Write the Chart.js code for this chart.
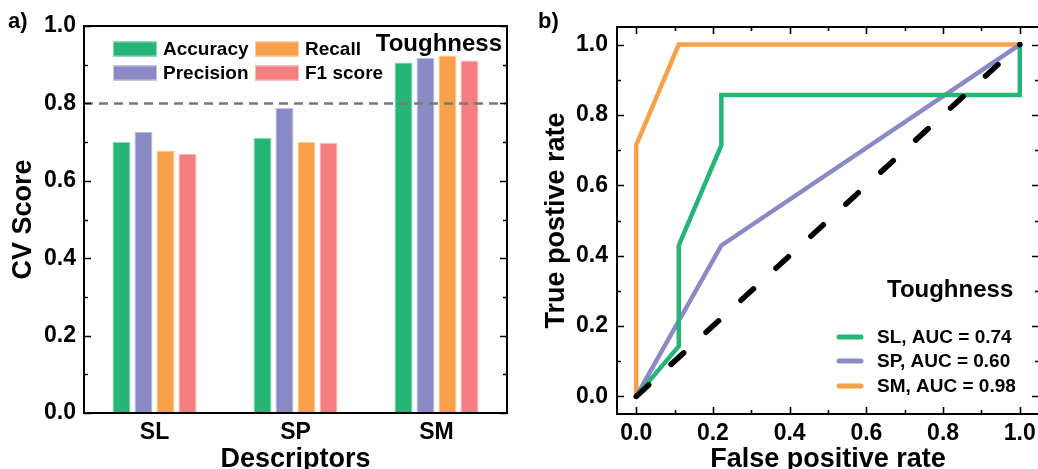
<!DOCTYPE html>
<html>
<head>
<meta charset="utf-8">
<script src="https://cdn.jsdelivr.net/npm/chart.js@4.4.1/dist/chart.umd.min.js"></script>
<style>
  body { margin: 0; width: 1038px; height: 469px; overflow: hidden; position: relative; background: #fff; }
  .panel { position: absolute; top: 0; }
  .tag { position: absolute; font: bold 22px "Liberation Sans", Arial, sans-serif; color: #000; }
</style>
</head>
<body>
<div class="panel" style="left:0"><canvas id="cvChart" width="519" height="480"></canvas></div>
<div class="panel" style="left:520px"><canvas id="rocChart" width="530" height="480"></canvas></div>
<div class="tag" style="left:8px;top:8px">a)</div>
<div class="tag" style="left:538px;top:8px">b)</div>
<script>
/* ---------- panel a: CV scores per descriptor ---------- */
const descriptors = ['SL', 'SP', 'SM'];
const accuracy  = [0.700, 0.711, 0.906];
const precision = [0.727, 0.788, 0.918];
const recall    = [0.678, 0.700, 0.924];
const f1score   = [0.670, 0.698, 0.911];
const threshold = 0.8;
const cvMajor = [0, 0.2, 0.4, 0.6, 0.8, 1.0];
const cvMinor = [0.1, 0.3, 0.5, 0.7, 0.9];

/* ---------- panel b: ROC curves ---------- */
const slFpr = [0, 0.111, 0.111, 0.222, 0.222, 1, 1];
const slTpr = [0, 0.143, 0.429, 0.714, 0.857, 0.857, 1];
const spFpr = [0, 0.222, 1];
const spTpr = [0, 0.429, 1];
const smFpr = [0, 0, 0.111, 1];
const smTpr = [0, 0.714, 1, 1];
const chanceFpr = [0, 1];
const chanceTpr = [0, 1];
const aucValues = { SL: 0.74, SP: 0.60, SM: 0.98 };
const rocMajor = [0, 0.2, 0.4, 0.6, 0.8, 1.0];
const rocMinor = [0.1, 0.3, 0.5, 0.7, 0.9];

const GREEN = '#27b577', PURPLE = '#8a8bc4', ORANGE = '#f8a04a', PINK = '#f47e80';
const FONT = '"Liberation Sans", Arial, sans-serif';

Chart.defaults.font.family = FONT;
Chart.defaults.font.weight = 'bold';
Chart.defaults.color = '#000';

const pts = (xs, ys) => xs.map((x, i) => ({ x: x, y: ys[i] }));

// box around the plot with inward major/minor ticks
const frameTicks = {
  id: 'frameTicks',
  afterDraw(chart, args, opts) {
    const { ctx, chartArea: a, scales } = chart;
    ctx.save();
    ctx.strokeStyle = '#000';
    ctx.lineWidth = 2;
    ctx.strokeRect(a.left, a.top, a.right - a.left, a.bottom - a.top);
    ctx.lineWidth = 1.6;
    ctx.beginPath();
    const yTick = (v, len) => {
      const y = Math.round(scales.y.getPixelForValue(v)) + 0.5;
      ctx.moveTo(a.left, y); ctx.lineTo(a.left + len, y);
      ctx.moveTo(a.right, y); ctx.lineTo(a.right - len, y);
    };
    const xTick = (v, len) => {
      const x = Math.round(scales.x.getPixelForValue(v)) + 0.5;
      ctx.moveTo(x, a.top); ctx.lineTo(x, a.top + len);
      ctx.moveTo(x, a.bottom); ctx.lineTo(x, a.bottom - len);
    };
    (opts.yMajor || []).forEach(v => yTick(v, 7));
    (opts.yMinor || []).forEach(v => yTick(v, 4));
    (opts.xMajor || []).forEach(v => xTick(v, 7));
    (opts.xMinor || []).forEach(v => xTick(v, 4));
    ctx.stroke();
    ctx.restore();
  }
};

// 2x2 legend, threshold line and the "Toughness" tag for the bar panel
const barExtras = {
  id: 'barExtras',
  afterDatasetsDraw(chart) {
    const { ctx, chartArea: a, scales } = chart;
    ctx.save();
    const y = scales.y.getPixelForValue(threshold);
    ctx.strokeStyle = '#7a7a7a';
    ctx.lineWidth = 2.5;
    ctx.setLineDash([9, 6]);
    ctx.beginPath();
    ctx.moveTo(a.left, y); ctx.lineTo(a.right, y);
    ctx.stroke();
    ctx.setLineDash([]);

    const slots = [[113, 49], [113, 73], [255, 49], [255, 73]];
    ctx.font = 'bold 19px ' + FONT;
    ctx.textBaseline = 'middle';
    chart.data.datasets.forEach((ds, i) => {
      const [x, cy] = slots[i];
      ctx.fillStyle = ds.backgroundColor;
      ctx.fillRect(x, cy - 7.5, 44, 15);
      ctx.strokeStyle = ds.borderColor;
      ctx.lineWidth = 1;
      ctx.strokeRect(x + 0.5, cy - 7, 43, 14);
      ctx.fillStyle = '#000';
      ctx.fillText(ds.label, x + 50, cy + 1);
    });
    ctx.font = 'bold 24px ' + FONT;
    ctx.textAlign = 'right';
    ctx.fillText('Toughness', a.right - 5, 44);
    ctx.restore();
  }
};

// line legend with title for the ROC panel
const rocLegend = {
  id: 'rocLegend',
  afterDraw(chart) {
    const { ctx } = chart;
    ctx.save();
    ctx.font = 'bold 24px ' + FONT;
    ctx.textBaseline = 'middle';
    ctx.fillStyle = '#000';
    ctx.fillText('Toughness', 367, 290);
    ctx.font = 'bold 19px ' + FONT;
    const rows = [337, 361, 386];
    chart.data.datasets.filter(ds => ds.label).forEach((ds, i) => {
      ctx.strokeStyle = ds.borderColor;
      ctx.lineWidth = 5;
      ctx.lineCap = 'round';
      ctx.beginPath();
      ctx.moveTo(319, rows[i]); ctx.lineTo(341, rows[i]);
      ctx.stroke();
      ctx.fillStyle = '#000';
      ctx.fillText(ds.label + ', AUC = ' + aucValues[ds.label].toFixed(2), 357, rows[i] + 1);
    });
    ctx.restore();
  }
};

const barSet = (label, data, fill, edge) => ({
  label, data,
  backgroundColor: fill,
  borderColor: edge,
  borderWidth: 1,
  categoryPercentage: 0.624,
  barPercentage: 0.82
});

new Chart(document.getElementById('cvChart'), {
  type: 'bar',
  data: {
    labels: descriptors,
    datasets: [
      barSet('Accuracy', accuracy, GREEN, '#8fd9b4'),
      barSet('Precision', precision, PURPLE, '#c4c5e6'),
      barSet('Recall', recall, ORANGE, '#fcd0a2'),
      barSet('F1 score', f1score, PINK, '#f9bcbd')
    ]
  },
  options: {
    responsive: false,
    animation: false,
    layout: { padding: { top: 26, right: 12, left: 0, bottom: 0 } },
    plugins: {
      legend: { display: false },
      tooltip: { enabled: false },
      frameTicks: { yMajor: cvMajor, yMinor: cvMinor }
    },
    scales: {
      x: {
        grid: { display: false, drawTicks: false },
        border: { display: false },
        ticks: { font: { size: 23 }, padding: 6 },
        title: { display: true, text: 'Descriptors', font: { size: 27 }, padding: { top: 0, bottom: 4 } },
        afterFit: s => { s.height = 67; }
      },
      y: {
        min: 0, max: 1,
        grid: { display: false, drawTicks: false },
        border: { display: false },
        ticks: { font: { size: 23 }, padding: 8, stepSize: 0.2, callback: v => v.toFixed(1) },
        title: { display: true, text: 'CV Score', font: { size: 27 }, padding: { top: 7, bottom: 0 } },
        afterBuildTicks: s => { s.ticks = cvMajor.map(v => ({ value: v })); },
        afterFit: s => { s.width = 84; }
      }
    }
  },
  plugins: [frameTicks, barExtras]
});

const rocLine = (label, xs, ys, color) => ({
  label, data: pts(xs, ys),
  borderColor: color,
  borderWidth: 4.5,
  pointRadius: 0,
  tension: 0,
  fill: false,
  borderJoinStyle: 'miter'
});

new Chart(document.getElementById('rocChart'), {
  type: 'line',
  data: {
    datasets: [
      {
        label: '', data: pts(chanceFpr, chanceTpr),
        borderColor: '#000', borderWidth: 5.5, borderDash: [17, 30.4], borderCapStyle: 'round',
        pointRadius: [0, 2.8], pointBackgroundColor: '#000', pointBorderWidth: 0, fill: false
      },
      rocLine('SL', slFpr, slTpr, GREEN),
      rocLine('SP', spFpr, spTpr, PURPLE),
      rocLine('SM', smFpr, smTpr, ORANGE)
    ]
  },
  options: {
    responsive: false,
    animation: false,
    layout: { padding: { top: 27, right: 11, left: 0, bottom: 0 } },
    plugins: {
      legend: { display: false },
      tooltip: { enabled: false },
      frameTicks: { yMajor: rocMajor, yMinor: rocMinor, xMajor: rocMajor, xMinor: rocMinor }
    },
    scales: {
      x: {
        type: 'linear', min: -0.05, max: 1.05,
        grid: { display: false, drawTicks: false },
        border: { display: false },
        ticks: { font: { size: 23 }, padding: 6, callback: v => v.toFixed(1) },
        title: { display: true, text: 'False positive rate', font: { size: 27 }, padding: { top: 0, bottom: 4 } },
        afterBuildTicks: s => { s.ticks = rocMajor.map(v => ({ value: v })); },
        afterFit: s => { s.height = 66; }
      },
      y: {
        type: 'linear', min: -0.05, max: 1.05,
        grid: { display: false, drawTicks: false },
        border: { display: false },
        ticks: { font: { size: 23 }, padding: 9, callback: v => v.toFixed(1) },
        title: { display: true, text: 'True postive rate', font: { size: 27 }, padding: { top: 20, bottom: 0 } },
        afterBuildTicks: s => { s.ticks = rocMajor.map(v => ({ value: v })); },
        afterFit: s => { s.width = 97; }
      }
    }
  },
  plugins: [frameTicks, rocLegend]
});
</script>
</body>
</html>
